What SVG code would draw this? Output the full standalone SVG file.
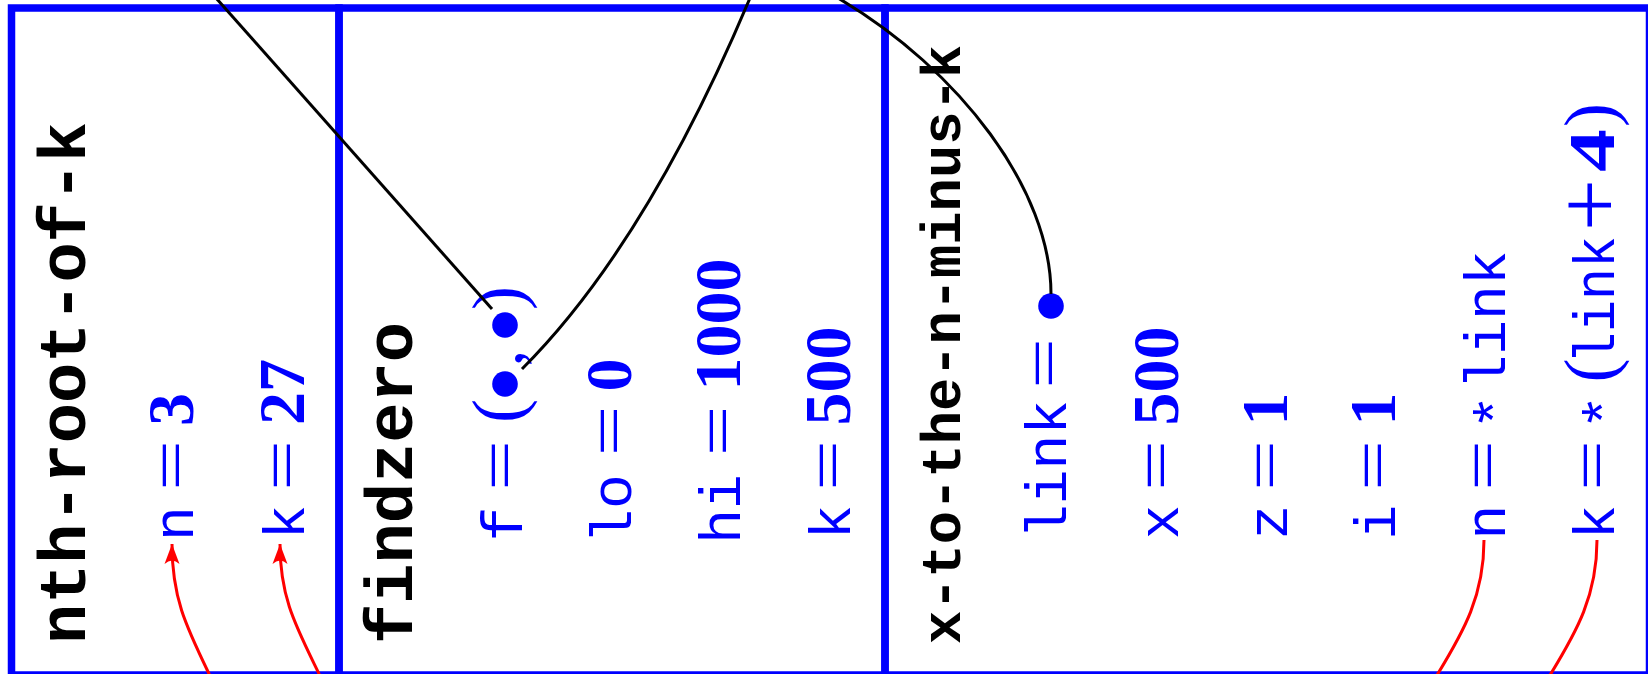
<svg xmlns="http://www.w3.org/2000/svg" width="1648" height="674" viewBox="0 0 1648 674">
<style>
.frame{fill:none;stroke:#0000ff;stroke-width:7.5}
.title{font-family:"Liberation Mono",monospace;font-weight:bold;fill:#000}
.v{font-family:"Liberation Mono",monospace;font-size:58px;fill:#0000ff}
.eq{font-family:"Liberation Serif",serif;font-size:66px;fill:#0000ff}
.plus{font-family:"Liberation Serif",serif;font-size:92px;fill:#0000ff}
.par{font-family:"Liberation Serif",serif;font-size:72px;fill:#0000ff}
.num{font-family:"Liberation Serif",serif;font-weight:bold;font-size:66px;fill:#0000ff}
.dot{fill:#0000ff}
.ptr{fill:none;stroke:#000;stroke-width:3}
.arr{fill:none;stroke:#ff0000;stroke-width:3}
</style>
<defs>
<marker id="ah" markerUnits="userSpaceOnUse" markerWidth="24" markerHeight="18" viewBox="-22 -9 24 18" refX="0" refY="0" orient="auto">
<path d="M0,0 L-20,-7.5 Q-13,0 -20,7.5 Z" fill="#ff0000"/>
</marker>
</defs>
<rect width="1648" height="674" fill="#fff"/>
<g id="frame-nth-root-of-k">
<rect class="frame" x="11.5" y="8" width="327.5" height="667"/>
<text class="title" font-size="66" transform="translate(85,644) rotate(-90)" textLength="522" lengthAdjust="spacingAndGlyphs">nth-root-of-k</text>
<text class="v" text-anchor="middle" transform="translate(193,523.5) rotate(-90)">n</text>
<text class="eq" text-anchor="middle" transform="translate(193,465.5) rotate(-90) scale(1.36,1)">=</text>
<text class="num" text-anchor="middle" transform="translate(193,409.5) rotate(-90)">3</text>
<text class="v" text-anchor="middle" transform="translate(304,522) rotate(-90)">k</text>
<text class="eq" text-anchor="middle" transform="translate(304,465.5) rotate(-90) scale(1.36,1)">=</text>
<text class="num" text-anchor="middle" transform="translate(304,392) rotate(-90)">27</text>
</g>
<g id="frame-findzero">
<rect class="frame" x="339" y="8" width="546" height="667"/>
<text class="title" font-size="66" transform="translate(412,644) rotate(-90)" textLength="322" lengthAdjust="spacingAndGlyphs">findzero</text>
<text class="v" text-anchor="middle" transform="translate(522,524) rotate(-90)">f</text>
<text class="eq" text-anchor="middle" transform="translate(522,465.5) rotate(-90) scale(1.36,1)">=</text>
<text class="par" text-anchor="middle" transform="translate(522,411) rotate(-90)">(</text>
<circle class="dot" cx="505" cy="384" r="12.8"/>
<text class="eq" text-anchor="middle" transform="translate(522,358) rotate(-90)">,</text>
<circle class="dot" cx="505" cy="325" r="12.8"/>
<text class="par" text-anchor="middle" transform="translate(522,298) rotate(-90)">)</text>
<text class="v" text-anchor="middle" transform="translate(631,509) rotate(-90)">lo</text>
<text class="eq" text-anchor="middle" transform="translate(631,431) rotate(-90) scale(1.36,1)">=</text>
<text class="num" text-anchor="middle" transform="translate(631,375) rotate(-90)">0</text>
<text class="v" text-anchor="middle" transform="translate(740,509) rotate(-90)">hi</text>
<text class="eq" text-anchor="middle" transform="translate(740,431) rotate(-90) scale(1.36,1)">=</text>
<text class="num" text-anchor="middle" transform="translate(740,324.5) rotate(-90)">1000</text>
<text class="v" text-anchor="middle" transform="translate(850,522) rotate(-90)">k</text>
<text class="eq" text-anchor="middle" transform="translate(850,465.5) rotate(-90) scale(1.36,1)">=</text>
<text class="num" text-anchor="middle" transform="translate(850,376) rotate(-90)">500</text>
</g>
<g id="frame-x-to-the-n-minus-k">
<rect class="frame" x="885" y="8" width="764.5" height="667"/>
<text class="title" font-size="55" transform="translate(959.5,644) rotate(-90)" textLength="599" lengthAdjust="spacingAndGlyphs">x-to-the-n-minus-k</text>
<text class="v" text-anchor="middle" transform="translate(1066,469.5) rotate(-90)">link</text>
<text class="eq" text-anchor="middle" transform="translate(1066,363.5) rotate(-90) scale(1.36,1)">=</text>
<circle class="dot" cx="1051" cy="306" r="12.8"/>
<text class="v" text-anchor="middle" transform="translate(1178,522) rotate(-90)">x</text>
<text class="eq" text-anchor="middle" transform="translate(1178,465.5) rotate(-90) scale(1.36,1)">=</text>
<text class="num" text-anchor="middle" transform="translate(1178,376) rotate(-90)">500</text>
<text class="v" text-anchor="middle" transform="translate(1287,522) rotate(-90)">z</text>
<text class="eq" text-anchor="middle" transform="translate(1287,465.5) rotate(-90) scale(1.36,1)">=</text>
<text class="num" text-anchor="middle" transform="translate(1287,409) rotate(-90)">1</text>
<text class="v" text-anchor="middle" transform="translate(1395,522) rotate(-90)">i</text>
<text class="eq" text-anchor="middle" transform="translate(1395,465.5) rotate(-90) scale(1.36,1)">=</text>
<text class="num" text-anchor="middle" transform="translate(1395,409) rotate(-90)">1</text>
<text class="v" text-anchor="middle" transform="translate(1505,522) rotate(-90)">n</text>
<text class="eq" text-anchor="middle" transform="translate(1505,465.5) rotate(-90) scale(1.36,1)">=</text>
<text class="v" text-anchor="middle" transform="translate(1515,412) rotate(-90)">*</text>
<text class="v" text-anchor="middle" transform="translate(1505,320) rotate(-90)">link</text>
<text class="v" text-anchor="middle" transform="translate(1614,522) rotate(-90)">k</text>
<text class="eq" text-anchor="middle" transform="translate(1614,465.5) rotate(-90) scale(1.36,1)">=</text>
<text class="v" text-anchor="middle" transform="translate(1624,412) rotate(-90)">*</text>
<text class="par" text-anchor="middle" transform="translate(1614,370.5) rotate(-90)">(</text>
<text class="v" text-anchor="middle" transform="translate(1614,300) rotate(-90) scale(0.92,1)">link</text>
<text class="plus" text-anchor="middle" transform="translate(1620,205) rotate(-90)">+</text>
<text class="num" text-anchor="middle" transform="translate(1614,150.5) rotate(-90) scale(1.3,1)">4</text>
<text class="par" text-anchor="middle" transform="translate(1614,115) rotate(-90)">)</text>
</g>
<g id="connectors">
<path class="ptr" d="M216,-2 L492,309"/>
<path class="ptr" d="M522,369 Q646,245 750,-2"/>
<path class="ptr" d="M1051,294 C1051,190 960,70 838,-2"/>
<path class="arr" d="M212,680 C187,628 172,600 172,544" marker-end="url(#ah)"/>
<path class="arr" d="M322,680 C297,628 280,600 280,544" marker-end="url(#ah)"/>
<path class="arr" d="M1484,540 C1484,595 1465,630 1434,680"/>
<path class="arr" d="M1597,540 C1597,595 1578,630 1547,680"/>
</g>
</svg>
